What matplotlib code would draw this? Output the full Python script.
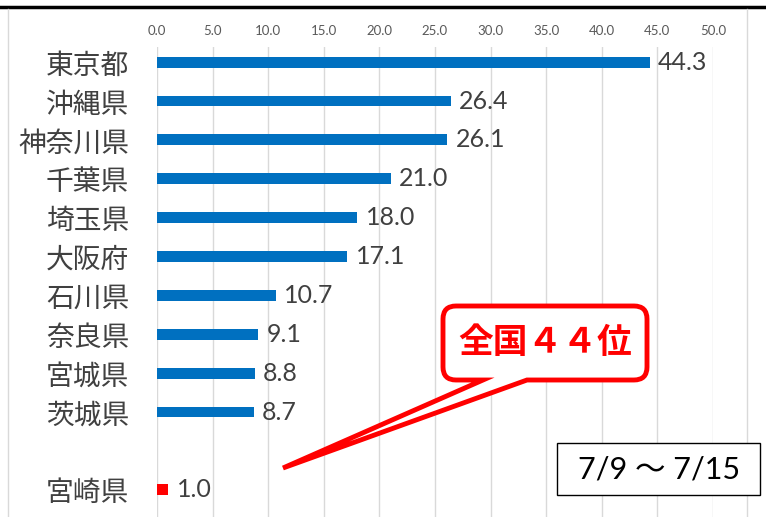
import matplotlib.pyplot as plt
from matplotlib.patches import PathPatch, Rectangle
from matplotlib.path import Path
from matplotlib.lines import Line2D

plt.rcParams['font.family'] = ['Noto Sans CJK JP', 'DejaVu Sans']

# data
prefs = ['東京都', '沖縄県', '神奈川県', '千葉県', '埼玉県', '大阪府',
         '石川県', '奈良県', '宮城県', '茨城県', '宮崎県']
values = [44.3, 26.4, 26.1, 21.0, 18.0, 17.1, 10.7, 9.1, 8.8, 8.7, 1.0]
rows = [0, 1, 2, 3, 4, 5, 6, 7, 8, 9, 11]  # gap row before 宮崎県
colors = ['#0070C0'] * 10 + ['#FF0000']
xticks = [0, 5, 10, 15, 20, 25, 30, 35, 40, 45, 50]
callout_text = '全国４４位'
period_text = '7/9 〜 7/15'

W, H = 766, 517
num_font = ['Lato', 'Noto Sans CJK JP']


def px(x, y):
    return (x / W, 1 - y / H)


fig = plt.figure(figsize=(W / 100, H / 100), dpi=100)
ax = fig.add_axes([157 / W, 0, (713 - 157) / W, 1 - 47 / H])

ax.barh(rows, values, height=0.28, color=colors, zorder=3)
for r, v in zip(rows, values):
    ax.annotate(f'{v:.1f}', (v, r), xytext=(6, 0), textcoords='offset points',
                va='center', ha='left', fontsize=18, color='#404040',
                family=num_font)

ax.set_xlim(0, 50)
ax.set_ylim(11.7, -0.39)
ax.set_xticks(xticks)
ax.set_xticklabels([f'{t:.1f}' for t in xticks], fontsize=9.5, color='#595959',
                   family=num_font)
ax.xaxis.tick_top()
ax.tick_params(axis='x', length=0, pad=7)
ax.set_yticks(rows)
ax.set_yticklabels(prefs, fontsize=20, color='#404040')
ax.tick_params(axis='y', length=0, pad=20)
ax.grid(axis='x', color='#D9D9D9', linewidth=1, zorder=0)
for s in ax.spines.values():
    s.set_visible(False)

# frame lines of the cropped chart
fig.add_artist(Line2D([0, 1], [px(0, 7)[1]] * 2, color='black', lw=2.5))
fig.add_artist(Line2D([px(8, 0)[0]] * 2, [0, px(0, 9)[1]], color='#D9D9D9', lw=1))
fig.add_artist(Line2D([px(747, 0)[0]] * 2, [0, px(0, 9)[1]], color='#D9D9D9', lw=1))

# callout: rounded box with a pointer, one path
bx0, by0, bx1, by1, rr = 443, 306, 647, 380, 13
pts = [
    (bx0 + rr, by0), (bx1 - rr, by0), (bx1, by0), (bx1, by0 + rr),
    (bx1, by1 - rr), (bx1, by1), (bx1 - rr, by1),
    (527, by1), (283, 468), (483, by1),
    (bx0 + rr, by1), (bx0, by1), (bx0, by1 - rr),
    (bx0, by0 + rr), (bx0, by0), (bx0 + rr, by0), (bx0 + rr, by0),
]
codes = [Path.MOVETO, Path.LINETO, Path.CURVE3, Path.CURVE3,
         Path.LINETO, Path.CURVE3, Path.CURVE3,
         Path.LINETO, Path.LINETO, Path.LINETO,
         Path.LINETO, Path.CURVE3, Path.CURVE3,
         Path.LINETO, Path.CURVE3, Path.CURVE3, Path.CLOSEPOLY]
callout = PathPatch(Path([px(*p) for p in pts], codes),
                    transform=fig.transFigure, facecolor='white',
                    edgecolor='#FF0000', lw=3.5, joinstyle='miter', zorder=5)
fig.add_artist(callout)
cx, cy = px(545, 343)
fig.text(cx, cy, callout_text, ha='center', va='center', fontsize=25,
         fontweight='bold', color='#FF0000', zorder=7)

# period box
p0 = px(557, 495)
p1 = px(760, 443)
fig.add_artist(Rectangle(p0, p1[0] - p0[0], p1[1] - p0[1],
                         transform=fig.transFigure, facecolor='white',
                         edgecolor='black', lw=1, zorder=5))
tx, ty = px(659, 469)
fig.text(tx, ty, period_text, ha='center', va='center', fontsize=22,
         color='black', zorder=7, family=num_font)

fig.savefig('out.png', dpi=100)
